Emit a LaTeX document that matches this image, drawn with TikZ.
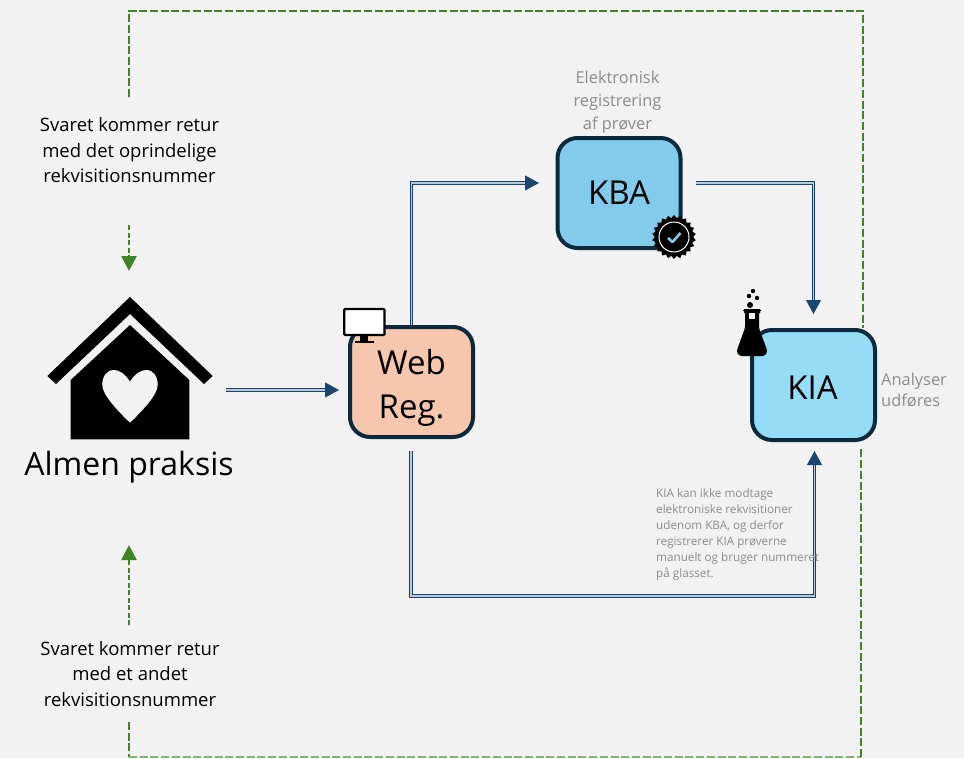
\documentclass[tikz,border=0pt]{standalone}
\usepackage{fontspec}
\setmainfont{Open Sans}
\usetikzlibrary{arrows.meta,shapes.geometric}
\definecolor{bg}{HTML}{F2F2F2}
\definecolor{edge}{HTML}{0B2A3E}
\definecolor{flow}{HTML}{1A4570}
\definecolor{grn}{HTML}{3F8427}
\definecolor{gry}{HTML}{8C8C8C}
\definecolor{webfill}{HTML}{F6C6AD}
\definecolor{kbafill}{HTML}{83CBEB}
\definecolor{kiafill}{HTML}{95DCF7}
\tikzset{
  box/.style={draw=edge,line width=4pt,rounded corners=20pt,minimum width=123pt,minimum height=110pt,inner sep=0pt},
  boxtext/.style={align=center,font=\fontsize{33}{45}\selectfont,text=black,inner sep=0pt},
  flowline/.style={draw=flow,line width=1pt,double=white!70!flow,double distance=1.6pt,-{Triangle[length=14pt,width=15pt,fill=flow]}},
  ret/.style={draw=grn,line width=2.8pt,dash pattern=on 8pt off 2.7pt},
  retarrow/.style={draw=grn,line width=2.6pt,dash pattern=on 5pt off 2.5pt,-{Triangle[length=15pt,width=15pt,fill=grn,sep=0pt]}},
  blacktext/.style={align=center,text=black,font=\fontsize{18.5}{25.5}\selectfont,inner sep=0pt},
  greytext/.style={align=center,text=gry,font=\fontsize{16.4}{23}\selectfont,inner sep=0pt},
  notetext/.style={align=left,text=gry,font=\fontsize{11.7}{16}\selectfont,inner sep=0pt},
  icon/.style={fill=black,draw=none}
}
\begin{document}
\begin{tikzpicture}[x=1pt,y=-1pt]
\useasboundingbox (0,0) rectangle (964,758);
\fill[bg] (0,0) rectangle (964,758);
% return paths
\coordinate (ra) at (129,97); \coordinate (rb) at (129,11); \coordinate (rc) at (863,11); \coordinate (rd) at (863,328);
\coordinate (sa) at (129,722); \coordinate (sb) at (129,757); \coordinate (sc) at (861,757); \coordinate (sd) at (861,447);
\draw[ret] (ra) -- (rb) -- (rc) -- (rd);
\draw[ret] (sa) -- (sb);
\draw[ret,line width=1.2pt,draw=grn!60!bg] (sb) -- (sc);
\draw[ret] (sc) -- (sd);
% boxes
\node[box,fill=webfill] (web) at (411.5,382) {};
\node[box,fill=kbafill] (kba) at (619,193) {};
\node[box,fill=kiafill] (kia) at (813.5,385) {};
\node[boxtext] (webt) at (411.5,388) {Web\\[-1pt]Reg.};
\node[boxtext] (kbat) at (619,193) {KBA};
\node[boxtext] (kiat) at (812.5,388) {KIA};
% house icon
\fill[icon] (130,297) -- (212.7,376) -- (204,384) -- (130,314) -- (56,384) -- (47.3,376) -- cycle;
\fill[icon] (130,325) -- (189.3,380) -- (189.3,439.3) -- (70.7,439.3) -- (70.7,380) -- cycle;
\fill[bg] (130,381.7) .. controls (125,373) and (118,370) .. (114,370)
  .. controls (106,370) and (102.3,377) .. (102.3,385)
  .. controls (102.3,395) and (118,411) .. (130,422.7)
  .. controls (142,411) and (157.7,395) .. (157.7,385)
  .. controls (157.7,377) and (154,370) .. (146,370)
  .. controls (142,370) and (135,373) .. (130,381.7) -- cycle;
% connector end points
\coordinate (h) at (226,390);
\coordinate (wi) at (339,390);
\coordinate (k1) at (411.5,183);
\coordinate (kin) at (539,183);
\coordinate (kout) at (696,183);
\coordinate (k2) at (813.5,183);
\coordinate (kiatop) at (813.5,314);
\coordinate (wb) at (411,451);
\coordinate (d1) at (411,596);
\coordinate (d2) at (814.5,596);
\coordinate (kiab) at (814.5,451);
\draw[flowline] (h) -- (wi);
\draw[flowline] (web.north) -- (k1) -- (kin);
\draw[flowline] (kout) -- (k2) -- (kiatop);
\draw[flowline] (wb) -- (d1) -- (d2) -- (kiab);
% monitor icon
\fill[icon] (355,340.5) rectangle (373.5,343);
\fill[icon] (360,335) rectangle (368,341);
\filldraw[fill=white,draw=black,line width=2.2pt,rounded corners=1pt] (344.2,309) rectangle (384.5,335);
% badge icon
\node[star,star points=22,star point ratio=1.15,fill=black,minimum size=44pt,inner sep=0pt] (badge) at (674,237) {};
\draw[white,line width=1pt] (badge.center) circle (15pt);
\draw[kbafill,line width=2.6pt,line join=round] (668,238) -- (672.5,242) -- (680.5,233);
% flask icon
\fill[icon,rounded corners=1.5pt] (743,309) -- (761,309) -- (761,312) -- (759,312) -- (759,328) -- (767,350) -- (767,353) -- (764,356) -- (740,356) -- (737,353) -- (737,350) -- (745,328) -- (745,312) -- (743,312) -- cycle;
\fill[bg] (749,313) rectangle (755,319);
\fill[icon] (750,305) circle (3pt) (749,296) circle (2.2pt) (757,298) circle (2.2pt) (753,291) circle (2.2pt);
% texts
\node[blacktext] (t1) at (129.5,150.5) {Svaret kommer retur\\med det oprindelige\\rekvisitionsnummer};
\node[blacktext] (t2) at (130,674) {Svaret kommer retur\\med et andet\\rekvisitionsnummer};
\node[text=black,font=\fontsize{32}{38}\selectfont,inner sep=0pt] (ap) at (129,467) {Almen praksis};
\node[greytext] (t3) at (617.5,102) {Elektronisk\\registrering\\af prøver};
\node[greytext,align=left,anchor=west,font=\fontsize{16.4}{21}\selectfont] (t4) at (881,390.5) {Analyser\\udføres};
\node[notetext,anchor=north west] (t5) at (656,488) {KIA kan ikke modtage\\elektroniske rekvisitioner\\udenom KBA, og derfor\\registrerer KIA prøverne\\manuelt og bruger nummeret\\på glasset.};
% green arrows
\coordinate (g1) at (129,225); \coordinate (g2) at (129,271);
\coordinate (g3) at (129,625); \coordinate (g4) at (129,545);
\draw[retarrow] (g1) -- (g2);
\draw[retarrow] (g3) -- (g4);
\end{tikzpicture}
\end{document}
